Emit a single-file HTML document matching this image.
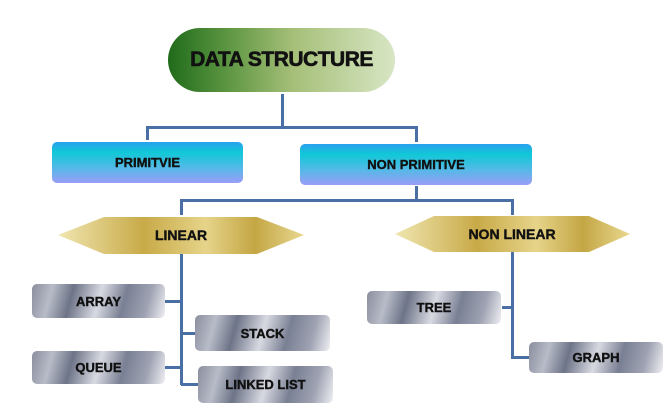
<!DOCTYPE html>
<html><head><style>
body{margin:0;width:664px;height:417px;background:#fff;position:relative;overflow:hidden;font-family:"Liberation Sans",sans-serif;font-weight:bold;}
.b{position:absolute;display:flex;align-items:center;justify-content:center;color:#111;font-size:13px;-webkit-text-stroke:0.4px #111;}
.root{left:168px;top:28px;width:227px;height:64px;border-radius:32px;background:linear-gradient(90deg,#1f6b1a 0%,#5a9440 25%,#a5bf78 55%,#d8e6c4 100%);font-size:21px;letter-spacing:-0.5px;-webkit-text-stroke:0.6px #111;}
.blue{border-radius:5px;background:linear-gradient(180deg,#2aa0ee 0%,#10c8d6 25%,#58b8e8 65%,#9a9cf8 100%);}
.s{border-radius:5px;background:linear-gradient(105deg,#8a8e9e 0%,#b8bcc8 15%,#6e7488 30%,#d8dae2 50%,#7a8094 68%,#9ea2b2 85%,#f0f0f4 100%);}
.l{position:absolute;background:#4a6fa5;}
</style></head><body>
<div class="b root">DATA STRUCTURE</div>
<div class="l" style="left:281px;top:94px;width:3px;height:34px"></div>
<div class="l" style="left:146px;top:126px;width:272px;height:3px"></div>
<div class="l" style="left:146px;top:126px;width:3px;height:14px"></div>
<div class="l" style="left:415px;top:126px;width:3px;height:16px"></div>
<div class="b blue" style="left:52px;top:142px;width:191px;height:41px">PRIMITVIE</div>
<div class="b blue" style="left:300px;top:144px;width:232px;height:41px">NON PRIMITIVE</div>
<div class="l" style="left:415px;top:186px;width:3px;height:15px"></div>
<div class="l" style="left:180px;top:199px;width:334px;height:3px"></div>
<div class="l" style="left:180px;top:199px;width:3px;height:16px"></div>
<div class="l" style="left:511px;top:199px;width:3px;height:16px"></div>
<svg style="position:absolute;left:0;top:0" width="664" height="417">
<defs><linearGradient id="g" x1="0" x2="1" y1="0" y2="0">
<stop offset="0" stop-color="#f0e6b0"/><stop offset="0.35" stop-color="#c8aa48"/><stop offset="0.6" stop-color="#e6d48a"/><stop offset="0.8" stop-color="#c4a644"/><stop offset="1" stop-color="#e8d890"/></linearGradient></defs>
<polygon points="58,235 104,217 257,217 304,235 257,254 104,254" fill="url(#g)"/>
<polygon points="395,234 434,216 589,216 630,234 589,252 434,252" fill="url(#g)"/>
<text x="181" y="240" text-anchor="middle" font-family="Liberation Sans" font-weight="bold" font-size="14" fill="#111" stroke="#111" stroke-width="0.4">LINEAR</text>
<text x="512" y="239" text-anchor="middle" font-family="Liberation Sans" font-weight="bold" font-size="14" fill="#111" stroke="#111" stroke-width="0.4">NON LINEAR</text>
</svg>
<div class="l" style="left:180px;top:254px;width:3px;height:131px"></div>
<div class="l" style="left:511px;top:252px;width:3px;height:107px"></div>
<div class="l" style="left:165px;top:300px;width:16px;height:3px"></div>
<div class="l" style="left:181px;top:332px;width:14px;height:3px"></div>
<div class="l" style="left:165px;top:366px;width:16px;height:3px"></div>
<div class="l" style="left:181px;top:383px;width:17px;height:3px"></div>
<div class="l" style="left:502px;top:306px;width:10px;height:3px"></div>
<div class="l" style="left:512px;top:356px;width:17px;height:3px"></div>
<div class="b s" style="left:32px;top:284px;width:133px;height:34px">ARRAY</div>
<div class="b s" style="left:195px;top:315px;width:135px;height:36px">STACK</div>
<div class="b s" style="left:32px;top:351px;width:133px;height:33px">QUEUE</div>
<div class="b s" style="left:198px;top:366px;width:135px;height:37px">LINKED LIST</div>
<div class="b s" style="left:367px;top:291px;width:134px;height:33px">TREE</div>
<div class="b s" style="left:529px;top:342px;width:134px;height:31px">GRAPH</div>
</body></html>
